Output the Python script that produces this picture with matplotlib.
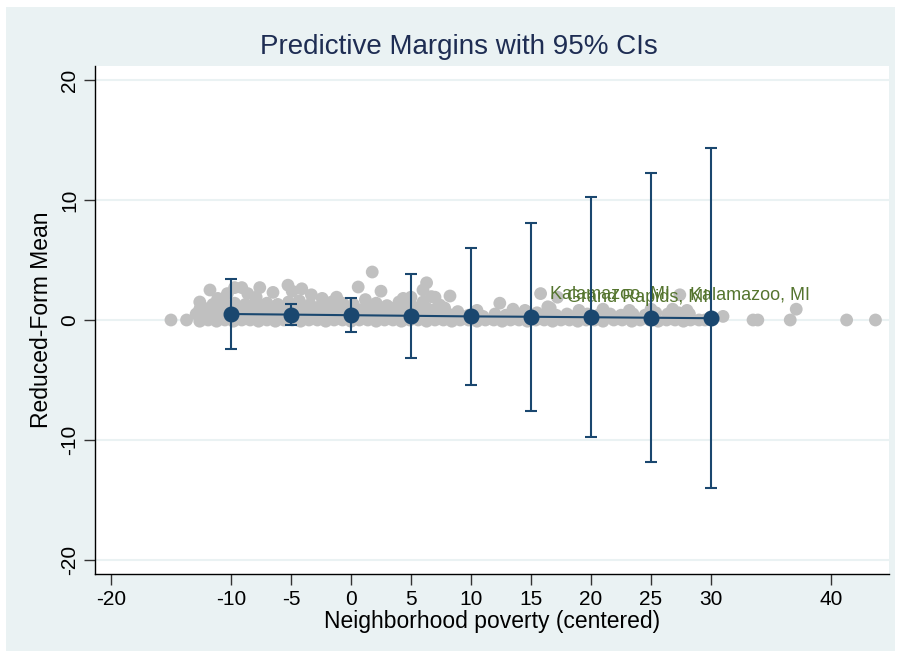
#!/usr/bin/env python3
"""Predictive margins with 95% CIs over a scatter of reduced-form means."""

import matplotlib

matplotlib.use("Agg")
import matplotlib.pyplot as plt
import numpy as np
from matplotlib.patches import Rectangle

plt.rcParams.update(
    {
        "font.family": ["Liberation Sans", "DejaVu Sans"],
        "axes.linewidth": 1.0,
        "axes.unicode_minus": False,
    }
)

# Margins (x, estimate, 95% CI)
margin_x = [-10, -5, 0, 5, 10, 15, 20, 25, 30]
margin_y = [0.50, 0.45, 0.40, 0.35, 0.30, 0.27, 0.23, 0.19, 0.15]
ci_low = [-2.45, -0.42, -1.02, -3.20, -5.40, -7.58, -9.77, -11.86, -14.00]
ci_high = [3.45, 1.32, 1.82, 3.85, 6.00, 8.12, 10.23, 12.24, 14.30]

points_base = [
    (-15.0, 0), (-13.7, 0), (-12.6, -0.1), (-11.9, 0), (-11.2, -0.1), (-10.5, 0),
    (-9.8, -0.1), (-9.1, 0), (-8.4, 0), (-7.7, -0.1), (-7.0, 0), (-6.3, -0.1),
    (-5.6, 0), (-4.9, 0), (-4.2, -0.1), (-3.5, 0), (-2.8, 0), (-2.1, -0.1),
    (-1.4, 0), (-0.7, 0), (0.0, -0.1), (0.7, 0), (1.4, 0), (2.1, -0.1),
    (2.8, 0), (3.5, 0), (4.2, -0.1), (4.9, 0), (5.6, 0), (6.3, -0.1),
    (7.0, 0), (7.7, 0), (8.4, -0.1), (9.1, 0), (9.8, 0), (10.5, -0.1),
    (11.2, 0), (11.9, 0), (12.6, -0.1), (13.3, 0), (14.0, 0), (14.7, -0.1),
    (15.4, 0), (16.1, 0), (16.8, -0.1), (17.5, 0), (18.2, 0), (18.9, -0.1),
    (19.6, 0), (20.3, 0), (21.0, -0.1), (21.9, 0), (22.6, 0), (23.4, -0.1),
    (24.1, 0), (24.9, 0), (25.6, -0.1), (26.3, 0), (27.0, 0), (27.7, -0.1),
    (28.3, 0), (29.0, 0), (29.5, 0), (33.5, 0), (33.9, 0), (36.6, 0),
    (41.3, 0), (43.7, 0),
]
points_mid = [
    (-12.9, 0.5), (-12.2, 0.4), (-11.5, 0.5), (-10.8, 0.4), (-10.1, 0.5), (-9.4, 0.4),
    (-8.7, 0.5), (-8.0, 0.4), (-7.3, 0.5), (-6.6, 0.4), (-5.9, 0.5), (-5.2, 0.4),
    (-4.5, 0.5), (-3.8, 0.4), (-3.1, 0.5), (-2.4, 0.4), (-1.7, 0.5), (-1.0, 0.4),
    (-0.3, 0.5), (0.4, 0.4), (1.1, 0.5), (1.8, 0.4), (2.5, 0.5), (3.2, 0.4),
    (3.9, 0.5), (4.6, 0.4), (5.3, 0.5), (6.0, 0.4), (6.7, 0.5), (7.4, 0.4),
    (8.1, 0.5), (8.9, 0.7), (9.8, 0.4), (11.0, 0.3), (12.0, 0.5), (12.9, 0.4),
    (13.8, 0.5), (14.6, 0.4), (15.5, 0.6), (16.3, 0.5), (17.1, 0.4), (18.0, 0.5),
    (18.8, 0.4), (19.7, 0.5), (20.6, 0.4), (21.6, 0.5), (22.5, 0.4), (23.5, 0.5),
    (24.5, 0.4), (25.4, 0.6), (26.4, 0.5), (27.3, 0.6), (28.2, 0.5), (31.0, 0.3),
    (-12.6, 0.9), (-11.8, 1.0), (-11.0, 0.9), (-10.3, 1.0), (-9.5, 0.9), (-8.8, 1.0),
    (-8.0, 0.9), (-7.2, 1.0), (-6.5, 0.9), (-5.7, 1.0), (-5.0, 0.9), (-4.2, 1.0),
    (-3.5, 0.9), (-2.7, 1.0), (-2.0, 0.9), (-1.2, 1.0), (-0.5, 0.9), (0.3, 1.0),
    (1.0, 0.9), (1.8, 1.0), (2.5, 0.9), (3.3, 1.0), (4.0, 0.9), (4.8, 1.0),
    (5.5, 0.9), (6.3, 1.0), (7.0, 0.9), (7.8, 1.0), (10.5, 0.8), (13.5, 0.9),
    (14.5, 0.8), (16.6, 1.0), (19.0, 0.8), (21.0, 0.9), (23.2, 0.8), (25.0, 0.9),
    (26.8, 0.9), (28.0, 0.8), (37.1, 0.9),
]
points_high = [
    (-12.6, 1.5), (-11.5, 1.3), (-10.6, 1.5), (-9.7, 1.4), (-8.8, 1.3), (-7.9, 1.6),
    (-7.0, 1.4), (-6.1, 1.3), (-5.2, 1.5), (-4.3, 1.6), (-3.4, 1.3), (-2.5, 1.2),
    (-1.6, 1.5), (-0.7, 1.4), (0.2, 1.3), (1.2, 1.7), (2.1, 1.4), (3.0, 1.2),
    (4.0, 1.5), (5.0, 1.3), (6.0, 1.5), (7.4, 1.25), (12.4, 1.4), (16.4, 1.1),
    (-11.75, 2.5), (-11.1, 1.8), (-10.3, 2.2), (-9.7, 2.7), (-9.1, 2.7), (-8.6, 2.2),
    (-7.6, 2.7), (-7.9, 1.9), (-6.5, 2.3), (-5.25, 2.9), (-4.9, 2.4), (-4.1, 2.6),
    (-3.3, 2.1), (-2.4, 1.8), (-1.2, 1.9), (0.6, 2.75), (1.77, 4.0), (2.5, 2.4),
    (4.35, 1.8), (5.0, 1.9), (6.0, 2.5), (6.3, 3.1), (6.7, 1.95), (7.0, 1.9),
    (8.25, 2.0),
]

# Labelled points
label_names = ["Kalamazoo, MI", "Grand Rapids, MI", "Kalamazoo, MI"]
label_x = [15.8, 17.2, 27.4]
label_y = [2.2, 1.9, 2.1]

BG = "#EAF2F3"
NAVY = "#1A476F"
GREEN = "#55752F"

fig = plt.figure(figsize=(9.01, 6.58), dpi=100)
fig.patch.set_facecolor("white")
fig.patches.append(
    Rectangle((6 / 901, 7 / 658), 889 / 901, 644 / 658, transform=fig.transFigure,
              facecolor=BG, edgecolor="none", zorder=-10)
)

ax = fig.add_axes([95 / 901, 84 / 658, 794 / 901, 508 / 658])
ax.set_facecolor("white")

pts = np.array(points_base + points_mid + points_high)
ax.scatter(pts[:, 0], pts[:, 1], s=85, color="#C0C0C0", edgecolors="none", zorder=2)
ax.scatter(label_x, label_y, s=85, color="#C0C0C0", edgecolors="none", zorder=2)
for name, lx, ly in zip(label_names, label_x, label_y):
    ax.annotate(name, (lx, ly), xytext=(7, 0), textcoords="offset points",
                va="center", ha="left", color=GREEN, fontsize=13, zorder=3)

my = np.array(margin_y)
yerr = [my - np.array(ci_low), np.array(ci_high) - my]
ax.errorbar(margin_x, margin_y, yerr=yerr, color=NAVY, lw=1.5, elinewidth=1.5,
            capsize=4.5, capthick=1.5, marker="o", markersize=10.5,
            markerfacecolor=NAVY, markeredgecolor=NAVY, zorder=4)

ax.set_xlim(-21.33, 44.83)
ax.set_ylim(-21.17, 21.17)
ax.set_xticks([-20, -10, -5, 0, 5, 10, 15, 20, 25, 30, 40])
ax.set_yticks([-20, -10, 0, 10, 20])
ax.tick_params(axis="both", direction="out", length=8, width=1, labelsize=15,
               color="#333333")
plt.setp(ax.get_yticklabels(), rotation=90, va="center")
ax.yaxis.grid(True, color=BG, lw=1.5)
ax.set_axisbelow(True)
for side in ("top", "right"):
    ax.spines[side].set_visible(False)

ax.set_xlabel("Neighborhood poverty (centered)", fontsize=16.5, labelpad=1)
ax.set_ylabel("Reduced-Form Mean", fontsize=16.5, labelpad=5)
fig.text(459 / 901, 1 - 47 / 658, "Predictive Margins with 95% CIs",
         ha="center", va="center", fontsize=20, color="#1E2D53")

fig.savefig("out.png", dpi=100)
